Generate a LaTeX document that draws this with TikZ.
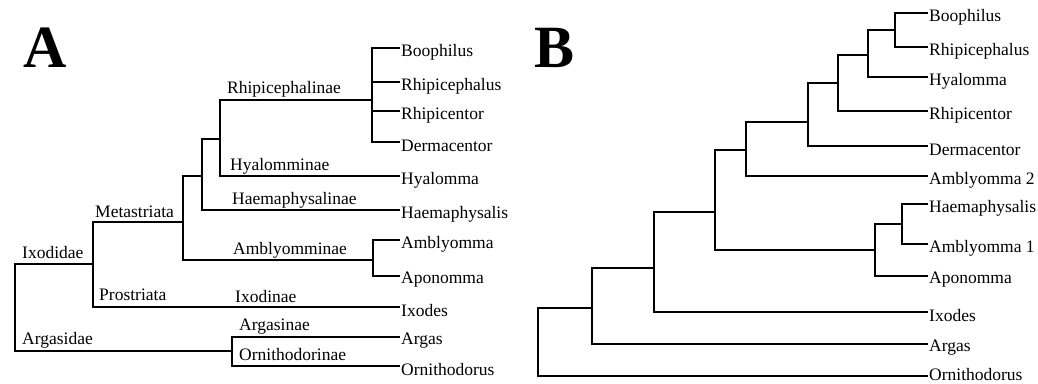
\documentclass[tikz,border=0pt]{standalone}
\usepackage{fontspec}
\setmainfont{Liberation Serif}
\begin{document}
\begin{tikzpicture}[x=1pt,y=-1pt,
  br/.style={line width=1.8pt, line join=miter},
  leaf/.style={anchor=west, inner sep=1pt, font=\fontsize{17.5}{20}\selectfont},
  clade/.style={anchor=west, inner sep=0pt, font=\fontsize{17.5}{20}\selectfont},
  panel/.style={anchor=base, inner sep=0pt, font=\fontsize{60}{60}\selectfont\bfseries}]
\useasboundingbox (0,0) rectangle (1038,383);
% panel letters
\node[panel] (labA) at (45,67) {A};
\node[panel] (labB) at (555,67) {B};

% ---------------- Panel A ----------------
\coordinate (aRoot) at (15,300);
\coordinate (aIxo) at (93,264);
\coordinate (aMeta) at (183,222);
\coordinate (a202) at (202,176);
\coordinate (a220) at (220,139);
\coordinate (aRhi) at (372,100);
\coordinate (aAmb) at (373,260);
\coordinate (aArg) at (232,351);

\node[leaf] (aBoo) at (400,52) {Boophilus};
\node[leaf] (aRph) at (400,86) {Rhipicephalus};
\node[leaf] (aRct) at (400,115) {Rhipicentor};
\node[leaf] (aDer) at (400,146) {Dermacentor};
\node[leaf] (aHya) at (400,180) {Hyalomma};
\node[leaf] (aHae) at (400,214) {Haemaphysalis};
\node[leaf] (aAmbl) at (400,244) {Amblyomma};
\node[leaf] (aApo) at (400,280) {Aponomma};
\node[leaf] (aIxd) at (400,311) {Ixodes};
\node[leaf] (aArgs) at (400,341) {Argas};
\node[leaf] (aOrn) at (400,370) {Ornithodorus};

\draw[br] (aRoot) |- (aIxo);
\draw[br] (aRoot) |- (aArg);
\draw[br] (aIxo) |- (aMeta);
\draw[br] (aIxo) |- ([yshift=4pt]aIxd.west);
\draw[br] (aMeta) |- (a202);
\draw[br] (aMeta) |- (aAmb);
\draw[br] (a202) |- (a220);
\draw[br] (a202) |- ([yshift=4pt]aHae.west);
\draw[br] (a220) |- (aRhi);
\draw[br] (a220) |- ([yshift=4pt]aHya.west);
\draw[br] (aRhi) |- ([yshift=4pt]aBoo.west);
\draw[br] (aRhi) |- ([yshift=4pt]aRph.west);
\draw[br] (aRhi) |- ([yshift=4pt]aRct.west);
\draw[br] (aRhi) |- ([yshift=4pt]aDer.west);
\draw[br] (aAmb) |- ([yshift=4pt]aAmbl.west);
\draw[br] (aAmb) |- ([yshift=4pt]aApo.west);
\draw[br] (aArg) |- ([yshift=4pt]aArgs.west);
\draw[br] (aArg) |- ([yshift=4pt]aOrn.west);

\node[clade] (cIxodidae) at (22,253) {Ixodidae};
\node[clade] (cMeta) at (95,212) {Metastriata};
\node[clade] (cPro) at (99,295) {Prostriata};
\node[clade] (cArgasidae) at (22,340) {Argasidae};
\node[clade] (cRhi) at (227,89) {Rhipicephalinae};
\node[clade] (cHya) at (230,166) {Hyalomminae};
\node[clade] (cHae) at (232,200) {Haemaphysalinae};
\node[clade] (cAmb) at (233,250) {Amblyomminae};
\node[clade] (cIxo) at (235,297) {Ixodinae};
\node[clade] (cArgi) at (239,327) {Argasinae};
\node[clade] (cOrn) at (239,355) {Ornithodorinae};

% ---------------- Panel B ----------------
\coordinate (bRoot) at (538,340);
\coordinate (b10) at (592,308);
\coordinate (b9) at (654,268);
\coordinate (b8) at (715,212);
\coordinate (b5) at (746,150);
\coordinate (b4) at (808,122);
\coordinate (b3) at (838,83);
\coordinate (b2) at (868,55);
\coordinate (b1) at (895,30);
\coordinate (b7) at (875,250);
\coordinate (b6) at (902,224);

\node[leaf] (bBoo) at (928,17) {Boophilus};
\node[leaf] (bRph) at (928,51) {Rhipicephalus};
\node[leaf] (bHya) at (928,81) {Hyalomma};
\node[leaf] (bRct) at (928,115) {Rhipicentor};
\node[leaf] (bDer) at (928,150) {Dermacentor};
\node[leaf] (bAm2) at (928,180) {Amblyomma 2};
\node[leaf] (bHae) at (928,208) {Haemaphysalis};
\node[leaf] (bAm1) at (928,248) {Amblyomma 1};
\node[leaf] (bApo) at (928,280) {Aponomma};
\node[leaf] (bIxd) at (928,316) {Ixodes};
\node[leaf] (bArgs) at (928,348) {Argas};
\node[leaf] (bOrn) at (928,375) {Ornithodorus};

\draw[br] (bRoot) |- (b10);
\draw[br] (bRoot) |- ([yshift=-1pt]bOrn.west);
\draw[br] (b10) |- (b9);
\draw[br] (b10) |- ([yshift=4pt]bArgs.west);
\draw[br] (b9) |- (b8);
\draw[br] (b9) |- ([yshift=4pt]bIxd.west);
\draw[br] (b8) |- (b5);
\draw[br] (b8) |- (b7);
\draw[br] (b5) |- (b4);
\draw[br] (b5) |- ([yshift=4pt]bAm2.west);
\draw[br] (b4) |- (b3);
\draw[br] (b4) |- ([yshift=4pt]bDer.west);
\draw[br] (b3) |- (b2);
\draw[br] (b3) |- ([yshift=4pt]bRct.west);
\draw[br] (b2) |- (b1);
\draw[br] (b2) |- ([yshift=4pt]bHya.west);
\draw[br] (b1) |- ([yshift=4pt]bBoo.west);
\draw[br] (b1) |- ([yshift=4pt]bRph.west);
\draw[br] (b7) |- (b6);
\draw[br] (b7) |- ([yshift=4pt]bApo.west);
\draw[br] (b6) |- ([yshift=4pt]bHae.west);
\draw[br] (b6) |- ([yshift=4pt]bAm1.west);
\end{tikzpicture}
\end{document}
